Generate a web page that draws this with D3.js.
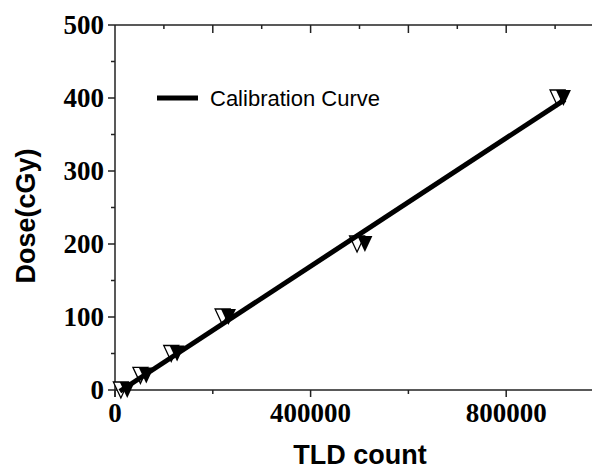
<!DOCTYPE html>
<html>
<head>
<meta charset="utf-8">
<script src="https://cdn.jsdelivr.net/npm/d3@7"></script>
<style>
  body { margin: 0; background: #fff; }
  svg { display: block; }
  .tick-label { font-family: "Liberation Serif", "Times New Roman", serif; font-weight: bold; font-size: 27px; fill: #000; }
  .axis-title { font-family: "Liberation Sans", Arial, sans-serif; font-weight: bold; font-size: 27px; fill: #000; }
  .legend-text { font-family: "Liberation Sans", Arial, sans-serif; font-size: 22px; fill: #000; }
</style>
</head>
<body>
<div id="svg-container"></div>
<script>
////////////////////////////////////////////////////////////////////
////////////////////////////  Data  ////////////////////////////////
const dose = [0, 20, 50, 100, 200, 400];
const countOpen = [12000, 52000, 115000, 220000, 495000, 905000];
const countFilled = [25000, 64000, 127000, 232000, 511000, 917000];
const fitRange = [10000, 920000];
const xTicks = [0, 400000, 800000];
const yTicks = [0, 100, 200, 300, 400, 500];
const legendLabel = "Calibration Curve";

////////////////////////////////////////////////////////////////////
////////////////////////////  Init  ////////////////////////////////
const width = 592, height = 469;
const svg = d3.select("#svg-container").append("svg")
  .attr("width", width).attr("height", height);

const xScale = d3.scaleLinear().domain([0, 1000000]).range([115, 604]);
const yScale = d3.scaleLinear().domain([0, 500]).range([390, 25]);

const axisColor = "#222";

// bottom axis
svg.append("line")
  .attr("x1", xScale(0)).attr("x2", width)
  .attr("y1", yScale(0)).attr("y2", yScale(0))
  .attr("stroke", axisColor).attr("stroke-width", 1.5);
// top axis
svg.append("line")
  .attr("x1", xScale(0)).attr("x2", width)
  .attr("y1", yScale(500)).attr("y2", yScale(500))
  .attr("stroke", axisColor).attr("stroke-width", 1.5);
// left axis
svg.append("line")
  .attr("x1", xScale(0)).attr("x2", xScale(0))
  .attr("y1", yScale(500)).attr("y2", yScale(0) + 7)
  .attr("stroke", axisColor).attr("stroke-width", 1.5);

// x ticks bottom (major every 400000, minor every 200000)
const xMinor = d3.range(0, 1000001, 200000);
svg.selectAll(".xb").data(xMinor).enter().append("line")
  .attr("x1", d => xScale(d)).attr("x2", d => xScale(d))
  .attr("y1", yScale(0))
  .attr("y2", d => yScale(0) + (d % 400000 === 0 ? 7 : 4))
  .attr("stroke", axisColor).attr("stroke-width", 1.5);
// x ticks top (inward)
const xTop = d3.range(100000, 1000001, 100000);
svg.selectAll(".xt").data(xTop).enter().append("line")
  .attr("x1", d => xScale(d)).attr("x2", d => xScale(d))
  .attr("y1", yScale(500))
  .attr("y2", d => yScale(500) + (d % 200000 === 0 ? 8 : 4))
  .attr("stroke", axisColor).attr("stroke-width", 1.5);
// y ticks
const yMinor = d3.range(0, 501, 50);
svg.selectAll(".yt").data(yMinor).enter().append("line")
  .attr("x1", d => xScale(0) - (d % 100 === 0 ? 7 : 4)).attr("x2", xScale(0))
  .attr("y1", d => yScale(d)).attr("y2", d => yScale(d))
  .attr("stroke", axisColor).attr("stroke-width", 1.5);

// tick labels
svg.selectAll(".xl").data(xTicks).enter().append("text")
  .attr("class", "tick-label")
  .attr("x", d => xScale(d)).attr("y", yScale(0) + 32)
  .attr("text-anchor", "middle")
  .text(d => d);
svg.selectAll(".yl").data(yTicks).enter().append("text")
  .attr("class", "tick-label")
  .attr("x", xScale(0) - 11).attr("y", d => yScale(d) + 9)
  .attr("text-anchor", "end")
  .text(d => d);

// axis titles
svg.append("text").attr("class", "axis-title")
  .attr("x", 360).attr("y", 464)
  .attr("text-anchor", "middle")
  .text("TLD count");
svg.append("text").attr("class", "axis-title")
  .attr("transform", "translate(35,216) rotate(-90)")
  .attr("text-anchor", "middle")
  .text("Dose(cGy)");

// triangles (pointing down)
const tri = (cx, cy) => {
  const w = 7.5, h = 8;
  return `M${cx - w},${cy - h}L${cx + w},${cy - h}L${cx},${cy + h}Z`;
};
svg.selectAll(".open").data(dose).enter().append("path")
  .attr("d", (d, i) => tri(xScale(countOpen[i]), yScale(d)))
  .attr("fill", "#fff").attr("stroke", "#000").attr("stroke-width", 1.3);
svg.selectAll(".filled").data(dose).enter().append("path")
  .attr("d", (d, i) => tri(xScale(countFilled[i]), yScale(d)))
  .attr("fill", "#000");

// least-squares fit through all points
const pts = dose.flatMap((d, i) => [[countOpen[i], d], [countFilled[i], d]]);
const mx = d3.mean(pts, p => p[0]), my = d3.mean(pts, p => p[1]);
const slope = d3.sum(pts, p => (p[0] - mx) * (p[1] - my)) / d3.sum(pts, p => (p[0] - mx) ** 2);
const intercept = my - slope * mx;
const line = d3.line().x(d => xScale(d)).y(d => yScale(slope * d + intercept));
svg.append("path").datum(fitRange)
  .attr("d", line)
  .attr("fill", "none").attr("stroke", "#000").attr("stroke-width", 5);

// legend
svg.append("line")
  .attr("x1", 157).attr("x2", 198).attr("y1", 98).attr("y2", 98)
  .attr("stroke", "#000").attr("stroke-width", 5);
svg.append("text").attr("class", "legend-text")
  .attr("x", 210).attr("y", 106)
  .text(legendLabel);
</script>
</body>
</html>
